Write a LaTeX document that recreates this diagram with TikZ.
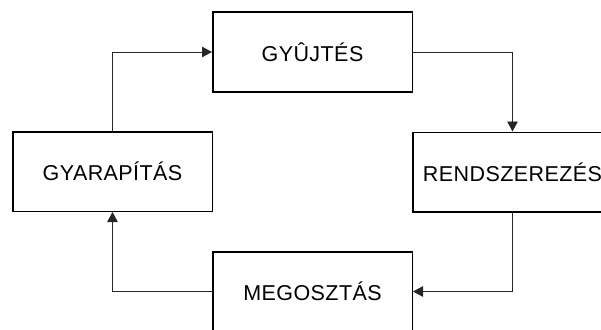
\documentclass[tikz,border=0pt]{standalone}
\usepackage{fontspec}
\setmainfont{Liberation Sans}[LetterSpace=2]
\usetikzlibrary{arrows.meta}
\begin{document}
\begin{tikzpicture}[x=1pt,y=1pt,
  box/.style={draw=black, line width=1.5pt, fill=white, rectangle,
    minimum width=199.5pt, minimum height=79.5pt, inner sep=0pt,
    font=\fontsize{21.5}{24}\selectfont},
  conn/.style={draw=black!85, line width=0.8pt,
    -{Triangle[length=10pt,width=10.5pt]}}]
\useasboundingbox (0,0) rectangle (601,-329);
\node[box] (g) at (312.5,-52) {GYÛJTÉS};
\node[box] (r) at (512.5,-172) {RENDSZEREZÉS};
\node[box] (gy) at (112.5,-171.5) {GYARAPÍTÁS};
\node[box] (m) at (312.5,-291.5) {MEGOSZTÁS};
\draw[conn] (gy.north) |- (g.west);
\draw[conn] (g.east) -| (r.north);
\draw[conn] (r.south) |- (m.east);
\draw[conn] (m.west) -| (gy.south);
\end{tikzpicture}
\end{document}
